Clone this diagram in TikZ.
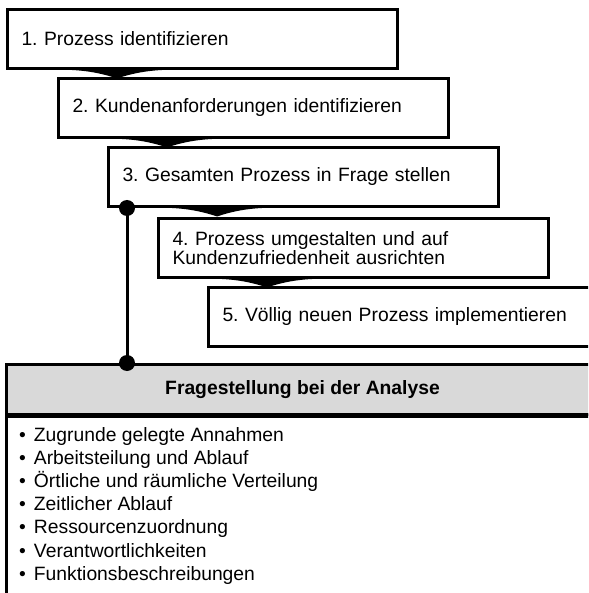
\documentclass[tikz,border=0pt]{standalone}
\usepackage{fontspec}
\setmainfont{Liberation Sans}
\usetikzlibrary{calc}
\frenchspacing

\definecolor{headgray}{RGB}{217,217,217}

\tikzset{
  stepbox/.style={draw=black, line width=3pt, fill=white, rectangle,
    anchor=north west, inner xsep=14pt, inner ysep=0pt,
    text width=362pt, minimum height=59pt, align=left,
    font=\fontsize{19.3}{18.5}\selectfont},
  headbox/.style={draw=black, line width=3pt, fill=headgray, rectangle,
    anchor=north west, minimum width=592pt, minimum height=50pt,
    inner sep=0pt, font=\fontsize{19.3}{23}\selectfont\bfseries},
  bodybox/.style={draw=black, line width=3pt, fill=white, rectangle,
    anchor=north west, minimum width=592pt, minimum height=180pt, inner sep=0pt},
  itemlist/.style={anchor=north west, inner sep=0pt, align=left,
    font=\fontsize{19.3}{23.2}\selectfont},
  joint/.style={circle, fill=black, minimum size=16pt, inner sep=0pt},
  link/.style={line width=3pt},
}

% funnel-shaped joint below a step, pointing into the next step
\newcommand\stepwedge[2]{%
  \path (#1.south -| #2.west) coordinate (w);
  \fill ([xshift=15pt]w)
    .. controls ([xshift=35pt,yshift=-1pt]w) and ([xshift=50pt,yshift=-5pt]w)
    .. ([xshift=60pt,yshift=-8.5pt]w)
    .. controls ([xshift=70pt,yshift=-5pt]w) and ([xshift=85pt,yshift=-1pt]w)
    .. ([xshift=105pt]w) -- cycle;
}

\begin{document}
\begin{tikzpicture}[x=1pt,y=-1pt]
  \useasboundingbox (0,0) rectangle (588,593);
  \clip (0,0) rectangle (588,593);

  % the five steps
  \node[stepbox] (b1) at (6,8) {1. Prozess identifizieren};
  \node[stepbox] (b2) at (57,77) {2. Kundenanforderungen identifizieren};
  \node[stepbox] (b3) at (107,146) {3. Gesamten Prozess in Frage stellen};
  \node[stepbox] (b4) at (157,217) {4. Prozess umgestalten und auf\\Kundenzufriedenheit ausrichten};
  \node[stepbox] (b5) at (207,286) {5. Völlig neuen Prozess implementieren};

  \stepwedge{b1}{b2}
  \stepwedge{b2}{b3}
  \stepwedge{b3}{b4}
  \stepwedge{b4}{b5}

  % analysis box
  \node[headbox] (hd) at (5,363) {Fragestellung bei der Analyse};
  \node[bodybox] (bd) at (5,413) {};
  \node[itemlist] (items) at (19,427) {%
    •\hspace{8pt}Zugrunde gelegte Annahmen\\
    •\hspace{8pt}Arbeitsteilung und Ablauf\\
    •\hspace{8pt}Örtliche und räumliche Verteilung\\
    •\hspace{8pt}Zeitlicher Ablauf\\
    •\hspace{8pt}Ressourcenzuordnung\\
    •\hspace{8pt}Verantwortlichkeiten\\
    •\hspace{8pt}Funktionsbeschreibungen};
  \draw[line width=3.5pt] (hd.south west) -- (hd.south east);

  % link from step 3 to the analysis
  \node[joint] (d1) at ([xshift=20pt]b3.south west) {};
  \node[joint] (d2) at (d1 |- hd.north) {};
  \draw[link] (d1.center) -- (d2.center);
\end{tikzpicture}
\end{document}
